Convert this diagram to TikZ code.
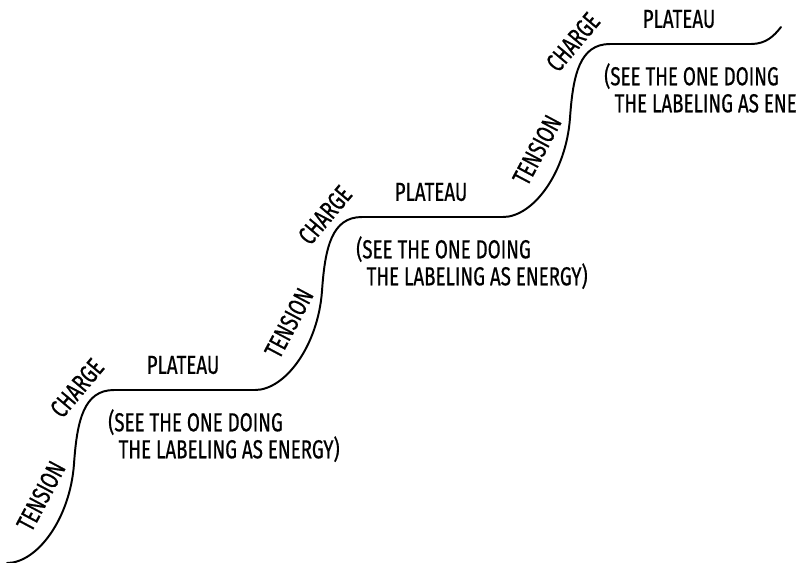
\documentclass[tikz,border=0pt]{standalone}
\usepackage{fontspec}
\setmainfont{Fira Sans}[FakeStretch=0.72,FakeBold=0.6]

\begin{document}
\begin{tikzpicture}[x=0.025cm,y=-0.025cm,
word/.style={
% The text:
font=\fontsize{18.5}{19.2}\selectfont,
inner sep=0pt
},
remark/.style={
font=\fontsize{18.5}{19.2}\selectfont,
align=left,
anchor=north west,
inner sep=0pt
},
stair/.style={line width=1.4pt,line cap=round}
]
\useasboundingbox (0,0) rectangle (796,562);
% The stairs:
\draw[stair] (7,563) .. controls (37,563) and (70,519) .. (74,464) .. controls (77,420) and (84,390) .. (114,390)
-- (255,390) .. controls (285,390) and (318,346) .. (322,291) .. controls (325,247) and (332,217) .. (362,217)
-- (503,217) .. controls (533,217) and (566,173) .. (570,118) .. controls (573,74) and (580,44) .. (610,44)
-- (751,44) .. controls (766,44) and (774,36) .. (781,27);
% First step:
\node (tension1) [word,rotate=62] at (41,496) {TENSION};
\node (charge1) [word,rotate=50] at (77,388) {CHARGE};
\node (plateau1) [word] at (183,365) {PLATEAU};
\node (see1) [remark] at (108,409) {(SEE THE ONE DOING\\\hspace*{0.4em}THE LABELING AS ENERGY)};
% Second step:
\node (tension2) [word,rotate=62] at (289,323) {TENSION};
\node (charge2) [word,rotate=50] at (325,215) {CHARGE};
\node (plateau2) [word] at (431,192) {PLATEAU};
\node (see2) [remark] at (356,236) {(SEE THE ONE DOING\\\hspace*{0.4em}THE LABELING AS ENERGY)};
% Third step:
\node (tension3) [word,rotate=62] at (537,150) {TENSION};
\node (charge3) [word,rotate=50] at (573,42) {CHARGE};
\node (plateau3) [word] at (679,19) {PLATEAU};
\node (see3) [remark] at (604,63) {(SEE THE ONE DOING\\\hspace*{0.4em}THE LABELING AS ENERGY)};
\end{tikzpicture}
\end{document}
